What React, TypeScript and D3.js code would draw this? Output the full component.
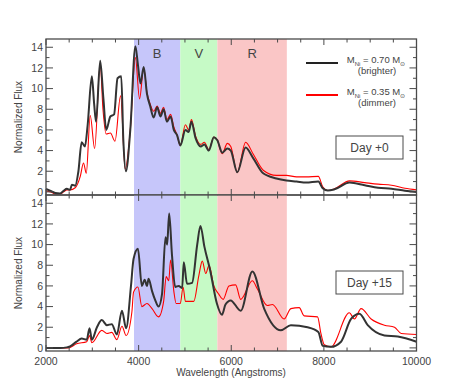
import React from 'react'
import * as d3 from 'd3'

// spectra: [wavelength (A), normalized flux]
const day0Brighter: [number, number][] = [
  [2000, 0.3], [2100, 0.1], [2200, -0.1], [2300, -0.15], [2380, 0.1], [2450, 0.3], [2520, 0.2], [2560, 0.7],
  [2630, 0.6], [2700, 2.0], [2770, 4.8], [2840, 4.4], [2900, 6.5], [2990, 11.2], [3040, 8.5], [3080, 6.8],
  [3170, 12.7], [3240, 9.0], [3300, 6.0], [3390, 7.3], [3470, 7.5], [3545, 11.0], [3625, 11.2], [3670, 5.0],
  [3725, 2.0], [3820, 6.0], [3930, 14.1], [3980, 12.5], [4040, 10.5], [4110, 12.1], [4180, 9.5], [4250, 8.3],
  [4325, 7.2], [4400, 8.2], [4470, 7.3], [4540, 8.0], [4610, 6.8], [4690, 7.3], [4760, 6.0], [4830, 5.5],
  [4900, 4.5], [5010, 6.0], [5080, 5.8], [5140, 6.8], [5230, 5.2], [5340, 4.4], [5420, 4.6], [5515, 4.0],
  [5625, 5.3], [5700, 5.0], [5805, 3.8], [5915, 4.2], [5990, 4.0], [6130, 1.9], [6310, 4.3], [6470, 3.3],
  [6690, 1.8], [6975, 1.3], [7190, 1.1], [7410, 1.0], [7620, 0.9], [7880, 1.0], [7975, 0.35], [8085, 0.13],
  [8230, 0.25], [8555, 0.9], [8880, 0.65], [9170, 0.4], [9460, 0.3], [9750, 0.12], [10000, 0.0],
]

const day0Dimmer: [number, number][] = [
  [2000, 0.1], [2100, 0.0], [2200, -0.2], [2300, -0.2], [2380, 0.0], [2450, 0.2], [2520, 0.2], [2630, 0.4],
  [2740, 1.5], [2810, 2.8], [2870, 1.8], [2955, 7.4], [3050, 4.2], [3170, 12.4], [3230, 8.0], [3300, 5.6],
  [3390, 5.7], [3490, 4.9], [3610, 9.3], [3710, 2.2], [3820, 6.0], [3930, 13.0], [4020, 9.0], [4110, 12.0],
  [4180, 9.6], [4250, 8.5], [4325, 7.8], [4400, 8.3], [4470, 7.6], [4540, 8.2], [4610, 7.0], [4690, 7.5],
  [4760, 6.3], [4830, 5.5], [4900, 4.5], [5010, 6.5], [5080, 6.0], [5140, 7.0], [5230, 5.4], [5340, 4.6],
  [5420, 4.8], [5515, 4.1], [5625, 5.3], [5700, 5.0], [5805, 3.7], [5915, 4.7], [5990, 4.4], [6130, 1.9],
  [6310, 4.8], [6470, 3.7], [6690, 2.1], [6975, 1.6], [7190, 1.6], [7410, 1.45], [7620, 1.45], [7880, 1.5],
  [7975, 0.5], [8085, 0.13], [8230, 0.3], [8555, 1.07], [8880, 0.9], [9170, 0.75], [9460, 0.65], [9750, 0.35],
  [10000, 0.2],
]

const day15Brighter: [number, number][] = [
  [2000, 0], [2300, 0], [2450, 0.05], [2520, 0.15], [2660, 0.6], [2770, 0.9], [2880, 0.8], [2940, 1.9],
  [2990, 0.8], [3100, 2.0], [3205, 2.7], [3315, 2.2], [3420, 2.3], [3530, 1.3], [3640, 3.6], [3730, 1.9],
  [3835, 6.0], [3890, 8.6], [3985, 9.6], [4070, 6.0], [4130, 6.6], [4180, 6.0], [4215, 6.7], [4290, 5.5],
  [4360, 4.6], [4430, 4.0], [4505, 5.2], [4580, 10.7], [4615, 10.0], [4660, 13.0], [4720, 9.0], [4790, 5.9],
  [4865, 6.0], [4940, 5.8], [4975, 8.3], [5045, 6.2], [5155, 6.3], [5265, 10.0], [5335, 11.8], [5420, 9.8],
  [5545, 7.5], [5690, 4.3], [5800, 3.2], [5875, 4.2], [5987, 4.6], [6204, 3.6], [6456, 7.4], [6710, 3.8],
  [7070, 1.7], [7287, 2.2], [7648, 2.0], [7880, 1.55], [7975, 0.2], [8153, 0.1], [8370, 0.6], [8587, 2.8],
  [8767, 3.3], [8947, 2.2], [9308, 1.2], [9597, 1.1], [10000, 0.6],
]

const day15Dimmer: [number, number][] = [
  [2000, 0], [2450, 0], [2520, 0.05], [2660, 0.4], [2880, 0.6], [2940, 1.2], [2990, 0.5], [3205, 1.7],
  [3315, 1.4], [3420, 1.5], [3530, 0.8], [3640, 2.1], [3730, 1.2], [3855, 3.5], [3890, 5.4], [3985, 5.9],
  [4070, 4.0], [4180, 4.3], [4290, 3.8], [4430, 3.0], [4540, 4.5], [4595, 6.9], [4650, 6.5], [4690, 8.5],
  [4760, 5.5], [4810, 4.3], [4900, 4.3], [4960, 5.9], [5010, 4.5], [5190, 4.5], [5300, 7.0], [5375, 8.4],
  [5450, 7.2], [5520, 8.0], [5625, 6.0], [5730, 5.2], [5825, 4.7], [5950, 6.0], [6095, 6.1], [6204, 4.7],
  [6456, 6.5], [6565, 5.7], [6780, 4.1], [6890, 4.2], [7142, 2.8], [7287, 3.8], [7467, 3.9], [7575, 3.1],
  [7864, 3.0], [7936, 1.4], [8010, 0.3], [8153, 0.1], [8550, 3.4], [8660, 2.8], [8803, 3.8], [9020, 2.8],
  [9308, 2.2], [9525, 2.0], [9670, 1.4], [10000, 1.3],
]

const bands = [
  { name: 'B', from: 3900, to: 4900, color: '#c6c6fa' },
  { name: 'V', from: 4900, to: 5700, color: '#c6fac6' },
  { name: 'R', from: 5700, to: 7200, color: '#fac6c6' },
]

const xMajor = [2000, 4000, 6000, 8000, 10000]
const yMajor = [0, 2, 4, 6, 8, 10, 12, 14]

const axisColor = '#4a4a4a'
const textColor = '#444'
const font = '"Liberation Sans", Arial, sans-serif'

const left = 46, right = 416.5
const x = d3.scaleLinear().domain([2000, 10000]).range([left, right])

function Panel({ top, bottom, bright, dim, day, boxY, showXLabels, id }: any) {
  const y = d3.scaleLinear().domain([-0.3, 14.8]).range([bottom, top])
  const line = d3.line<[number, number]>().x(d => x(d[0])).y(d => y(d[1])).curve(d3.curveMonotoneX)
  const xMinor = d3.range(2000, 10001, 500)
  const yMinor = d3.range(0, 15, 1)
  return (
    <g>
      <defs>
        <clipPath id={id}>
          <rect x={left} y={top} width={right - left} height={bottom - top} />
        </clipPath>
      </defs>
      {bands.map(b => (
        <rect key={b.name} x={x(b.from)} y={top} width={x(b.to) - x(b.from)} height={bottom - top} fill={b.color} />
      ))}
      <g clipPath={`url(#${id})`}>
        <path d={line(dim) || ''} fill="none" stroke="#ff0000" strokeWidth={1.1} />
        <path d={line(bright) || ''} fill="none" stroke="#333" strokeWidth={2} />
      </g>
      <rect x={left} y={top} width={right - left} height={bottom - top} fill="none" stroke={axisColor} strokeWidth={1.3} />
      {xMinor.map(v => {
        const len = xMajor.includes(v) ? 6 : 3.5
        return (
          <g key={v} stroke={axisColor} strokeWidth={1}>
            <line x1={x(v)} x2={x(v)} y1={bottom} y2={bottom - len} />
            <line x1={x(v)} x2={x(v)} y1={top} y2={top + len} />
          </g>
        )
      })}
      {yMinor.map(v => {
        const len = v % 2 === 0 ? 7 : 3.5
        return (
          <g key={v} stroke={axisColor} strokeWidth={1}>
            <line x1={left} x2={left + len} y1={y(v)} y2={y(v)} />
            <line x1={right} x2={right - len} y1={y(v)} y2={y(v)} />
          </g>
        )
      })}
      {yMajor.map(v => (
        <text key={v} x={left - 3} y={y(v)} dy="0.35em" textAnchor="end" fontSize={10.5} fill={textColor} fontFamily={font}>{v}</text>
      ))}
      {showXLabels && xMajor.map(v => (
        <text key={v} x={x(v)} y={bottom + 14} textAnchor="middle" fontSize={10.5} fill={textColor} fontFamily={font}>{v}</text>
      ))}
      <text transform={`translate(22,${(top + bottom) / 2}) rotate(-90)`} textAnchor="middle" fontSize={10} fill={textColor} fontFamily={font}>Normalized Flux</text>
      <rect x={336} y={boxY} width={67} height={23} fill="none" stroke={axisColor} strokeWidth={1} />
      <text x={369.5} y={boxY + 15.5} textAnchor="middle" fontSize={12} fill={textColor} fontFamily={font}>{day}</text>
    </g>
  )
}

function Legend() {
  const rows = [
    { color: '#222', value: '0.70', note: '(brighter)', y: 63 },
    { color: '#ff0000', value: '0.35', note: '(dimmer)', y: 95 },
  ]
  return (
    <g fontFamily={font} fill={textColor} fontSize={9.5}>
      {rows.map(r => (
        <g key={r.value}>
          <line x1={306} x2={338} y1={r.y} y2={r.y} stroke={r.color} strokeWidth={2} />
          <text x={376} y={r.y} textAnchor="middle">
            M<tspan fontSize={6} dy={2.5}>Ni</tspan><tspan dy={-2.5}>{` = ${r.value} M`}</tspan><tspan fontSize={6} dy={2.5}>⊙</tspan>
          </text>
          <text x={377} y={r.y + 11} textAnchor="middle">{r.note}</text>
        </g>
      ))}
    </g>
  )
}

export default function App() {
  return (
    <svg width={463} height={391} style={{ position: 'absolute', left: 0, top: 0, background: '#fff' }}>
      <Panel id="c0" top={39} bottom={195} boxY={136} bright={day0Brighter} dim={day0Dimmer} day="Day +0" showXLabels={false} />
      <Panel id="c15" top={195} bottom={351} boxY={271} bright={day15Brighter} dim={day15Dimmer} day="Day +15" showXLabels={true} />
      {bands.map(b => (
        <text key={b.name} x={x((b.from + b.to) / 2)} y={58} textAnchor="middle" fontSize={13} fill={textColor} fontFamily={font}>{b.name}</text>
      ))}
      <Legend />
      <text x={231} y={376} textAnchor="middle" fontSize={10} fill={textColor} fontFamily={font}>Wavelength (Angstroms)</text>
    </svg>
  )
}
